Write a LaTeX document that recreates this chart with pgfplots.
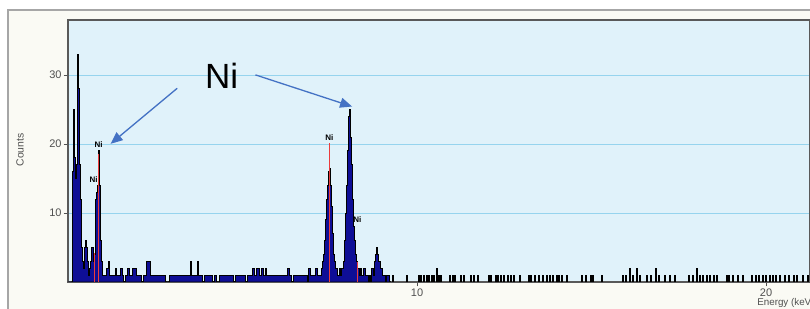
\documentclass[border=0pt]{standalone}
\usepackage{fontspec}
\setmainfont{Liberation Sans}
\usepackage{pgfplots}
\pgfplotsset{compat=1.18}
\usepackage{pgfplotstable}
\usetikzlibrary{arrows.meta}
\definecolor{plotbg}{RGB}{224,242,250}
\definecolor{panelbg}{RGB}{250,250,244}
\definecolor{gridc}{RGB}{150,212,238}
\definecolor{specblue}{RGB}{14,14,150}
\definecolor{arrowblue}{RGB}{68,114,196}
\definecolor{linered}{RGB}{235,60,60}
\definecolor{tickc}{RGB}{80,80,80}

\pgfplotstableread{
x y
0.00 0
0.10 0
0.12 8
0.14 16
0.16 25
0.18 22
0.20 18
0.22 15
0.24 17
0.26 27
0.28 33
0.30 28
0.32 22
0.34 17
0.36 12
0.38 8
0.40 5
0.42 3
0.44 2
0.46 3
0.48 5
0.50 6
0.52 6
0.54 5
0.56 3
0.58 2
0.60 1
0.62 2
0.64 3
0.66 4
0.68 5
0.70 5
0.72 4
0.74 3
0.76 4
0.78 8
0.80 12
0.82 13
0.84 14
0.86 16
0.88 19
0.90 14
0.92 10
0.94 6
0.96 3
0.98 2
1.00 1
1.05 1
1.10 2
1.15 3
1.20 1
1.25 1
1.30 1
1.35 2
1.40 1
1.45 1
1.50 2
1.55 1
1.60 0
1.65 1
1.70 2
1.75 1
1.80 1
1.85 2
1.90 2
1.95 1
2.00 1
2.05 1
2.10 0
2.15 1
2.20 1
2.25 3
2.30 3
2.35 1
2.40 1
2.45 1
2.50 1
2.55 1
2.60 1
2.65 1
2.70 1
2.75 1
2.80 0
2.85 0
2.90 1
2.95 1
3.00 1
3.05 1
3.10 1
3.15 1
3.20 1
3.25 1
3.30 1
3.35 1
3.40 1
3.45 1
3.50 3
3.55 1
3.60 1
3.65 1
3.70 3
3.75 1
3.80 1
3.85 0
3.90 1
3.95 1
4.00 1
4.05 1
4.10 1
4.15 0
4.20 1
4.25 0
4.30 0
4.35 1
4.40 1
4.45 1
4.50 1
4.55 1
4.60 1
4.65 1
4.70 1
4.75 0
4.80 1
4.85 1
4.90 1
4.95 1
5.00 1
5.05 1
5.10 0
5.15 1
5.20 1
5.25 1
5.30 2
5.35 1
5.40 2
5.45 2
5.50 1
5.55 2
5.60 1
5.65 2
5.70 1
5.75 1
5.80 1
5.85 1
5.90 1
5.95 1
6.00 1
6.05 1
6.10 1
6.15 1
6.20 1
6.25 1
6.30 2
6.35 1
6.40 0
6.45 1
6.50 1
6.55 1
6.60 1
6.65 1
6.70 1
6.75 1
6.80 1
6.85 0
6.90 2
6.95 1
7.00 1
7.05 1
7.10 2
7.15 1
7.20 1
7.25 2
7.28 3
7.31 4
7.34 6
7.37 9
7.40 12
7.43 14
7.46 16
7.49 16.5
7.52 14
7.55 11
7.58 7
7.61 4
7.64 3
7.67 2
7.70 2
7.73 1
7.76 1
7.79 2
7.82 1
7.85 2
7.88 3
7.91 6
7.94 10
7.97 14
8.00 19
8.03 24
8.06 25
8.09 21
8.12 17
8.15 12
8.18 8
8.21 6
8.24 4
8.27 3
8.30 2
8.33 2
8.36 1
8.39 2
8.42 1
8.45 1
8.48 2
8.51 1
8.54 1
8.57 1
8.60 0
8.63 1
8.66 0
8.69 2
8.72 2
8.75 1
8.78 3
8.81 4
8.84 5
8.87 4
8.90 3
8.93 3
8.96 2
8.99 2
9.02 1
9.05 1
9.08 1
9.11 0
9.14 1
9.17 1
9.20 0
9.25 0
}\spec

\pgfplotstableread{
x y
9.30 1
9.72 1
10.05 1
10.12 1
10.20 1
10.28 1
10.35 1
10.42 1
10.50 1
10.57 2
10.62 1
10.70 1
10.95 1
11.02 1
11.10 1
11.25 1
11.35 1
11.55 1
11.62 1
11.76 1
12.05 1
12.12 1
12.25 1
12.32 1
12.40 1
12.50 1
12.60 1
12.70 1
12.78 1
12.96 1
13.20 1
13.28 1
13.38 1
13.50 1
13.60 1
13.73 1
13.82 1
13.90 1
14.00 1
14.08 1
14.15 1
14.30 1
14.72 1
14.85 1
14.98 1
15.05 1
15.30 1
15.90 1
16.00 1
16.10 2
16.20 1
16.30 2
16.40 1
16.60 1
16.70 1
16.85 2
16.92 1
17.10 1
17.25 1
17.40 1
17.78 1
17.90 1
18.02 2
18.10 1
18.20 1
18.30 1
18.40 1
18.50 1
18.59 1
18.87 1
18.95 1
19.05 1
19.20 1
19.35 1
19.60 1
19.70 1
19.80 1
19.90 1
20.00 1
20.10 1
20.20 1
20.30 1
20.40 1
20.55 1
20.65 1
20.80 1
20.90 1
21.05 1
21.20 1
}\sparse

\begin{document}
\begin{tikzpicture}
\useasboundingbox (-34pt,-13.5pt) rectangle (371pt,141pt);
\fill[white] (-34pt,-13.5pt) rectangle (371pt,141pt);
\filldraw[fill=panelbg, draw=gray!70, line width=0.6pt] (-30pt,-20pt) rectangle (380pt,136pt);
\begin{axis}[
  at={(0pt,0pt)}, anchor=south west,
  scale only axis, width=371pt, height=131pt,
  xmin=0, xmax=21.26, ymin=0, ymax=38,
  clip=false,
  axis background/.style={fill=plotbg},
  axis line style={draw=black!65, line width=0.6pt},
  xtick={10,20}, ytick={10,20,30},
  xtick pos=left, ytick pos=left,
  tick align=outside, major tick length=2.2pt,
  tick style={draw=tickc, line width=0.4pt},
  ymajorgrids, grid style={draw=gridc, line width=0.5pt},
  ticklabel style={font=\fontsize{5.5}{6}\selectfont, text=tickc},
  /pgf/number format/assume math mode=true,
  xticklabel style={yshift=2.5pt},
  yticklabel style={xshift=2.5pt},
  xlabel={Energy (keV)},
  xlabel style={at={(axis cs:19.74,0)}, anchor=north west, inner sep=0pt, yshift=-8pt, font=\fontsize{4.9}{5.5}\selectfont, text=tickc},
  ylabel={Counts},
  ylabel style={at={(rel axis cs:-0.0647,0.504)}, anchor=center, font=\fontsize{5.2}{6}\selectfont, text=tickc},
]
\addplot[const plot, fill=specblue, draw=black, line width=0.5pt] table {\spec} \closedcycle;
\addplot[ycomb, draw=black, line width=1pt, no marks] table {\sparse};
\addplot[ycomb, draw=linered, line width=0.5pt, no marks] coordinates {(0.77,4.2) (0.885,18.6) (7.49,20.1) (8.30,2.9)};
\node[font=\bfseries\fontsize{4}{4}\selectfont] at (axis cs:0.876,19.9) {Ni};
\node[font=\bfseries\fontsize{4}{4}\selectfont] at (axis cs:0.733,14.8) {Ni};
\node[font=\bfseries\fontsize{4}{4}\selectfont] at (axis cs:7.49,20.9) {Ni};
\node[font=\bfseries\fontsize{4}{4}\selectfont] at (axis cs:8.29,9.0) {Ni};
\node[font=\fontsize{17.5}{20}\selectfont] at (axis cs:4.4,29.9) {Ni};
\draw[arrowblue, line width=0.65pt, -{Triangle[length=6pt,width=5pt]}] (axis cs:3.13,28.1) -- (axis cs:1.22,20.04);
\draw[arrowblue, line width=0.65pt, -{Triangle[length=6pt,width=5pt]}] (axis cs:5.37,30.04) -- (axis cs:8.14,25.45);
\end{axis}
\end{tikzpicture}
\end{document}
